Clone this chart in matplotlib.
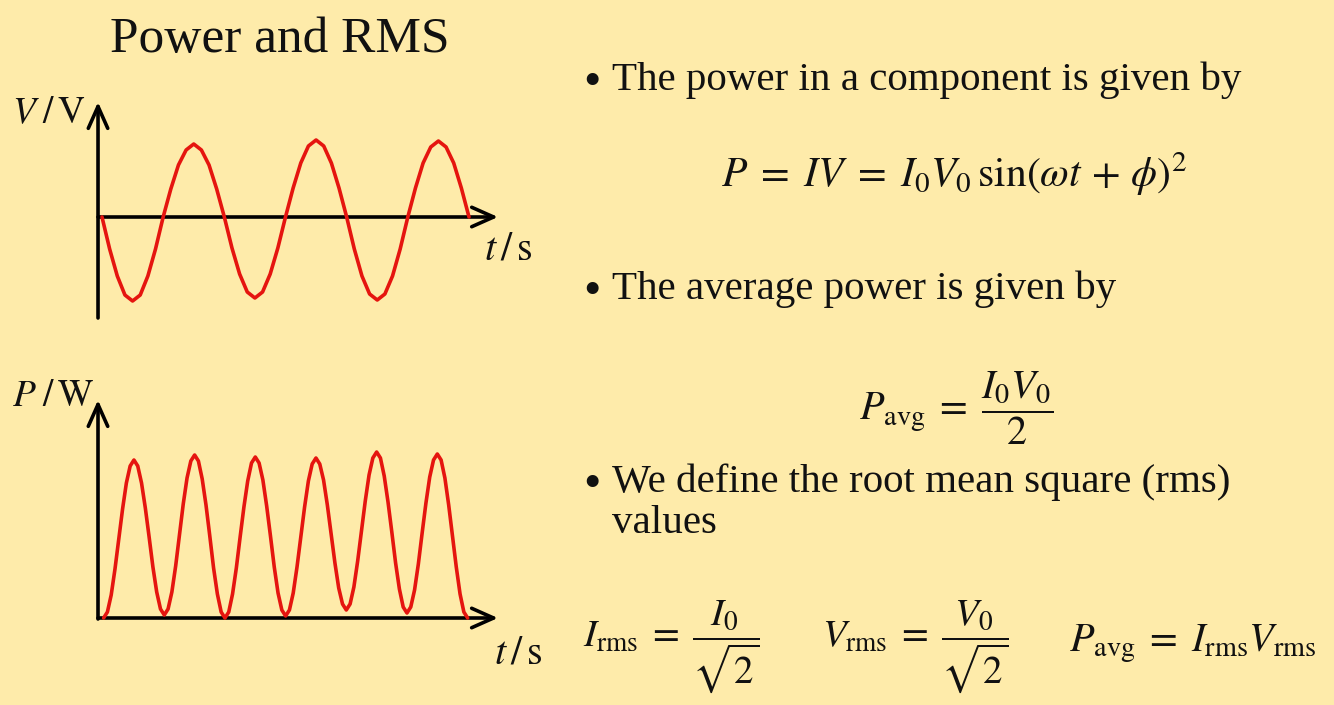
import matplotlib.pyplot as plt
import numpy as np

plt.rcParams['font.family'] = 'Liberation Serif'
plt.rcParams['mathtext.fontset'] = 'stix'

W, H = 1334, 705
bg = '#FEEBAA'
red = '#E5150F'
ink = '#111111'

# voltage trace, read every 1/16 of a period (3 periods)
t_v = np.arange(49)
v_vals = [0, -3.2, -5.9, -7.8, -8.4, -7.8, -5.9, -3.2, 0,
          2.8, 5.2, 6.7, 7.3, 6.7, 5.2, 2.8, 0,
          -3.1, -5.7, -7.5, -8.1, -7.5, -5.7, -3.1, 0,
          2.9, 5.4, 7.1, 7.7, 7.1, 5.4, 2.9, 0,
          -3.2, -5.9, -7.7, -8.3, -7.7, -5.9, -3.2, 0,
          2.9, 5.4, 7.0, 7.6, 7.0, 5.4, 2.9, 0]

# power trace, read every 1/16 of a hump (6 humps)
t_p = np.arange(97)
p_vals = [0, 0.6, 2.3, 4.9, 7.9, 10.9, 13.5, 15.2, 15.8,
          15.2, 13.5, 11.0, 8.1, 5.1, 2.6, 0.9, 0.3,
          0.9, 2.6, 5.2, 8.3, 11.4, 14.0, 15.7, 16.3,
          15.7, 13.9, 11.3, 8.2, 5.0, 2.4, 0.6, 0.0,
          0.6, 2.4, 5.0, 8.1, 11.1, 13.7, 15.5, 16.1,
          15.5, 13.8, 11.2, 8.2, 5.1, 2.5, 0.8, 0.2,
          0.8, 2.5, 5.1, 8.1, 11.1, 13.7, 15.4, 16.0,
          15.4, 13.8, 11.3, 8.4, 5.5, 3.0, 1.4, 0.8,
          1.4, 3.1, 5.7, 8.7, 11.7, 14.3, 16.0, 16.6,
          16.0, 14.2, 11.6, 8.6, 5.5, 2.9, 1.1, 0.5,
          1.1, 2.8, 5.4, 8.5, 11.5, 14.1, 15.8, 16.4,
          15.8, 14.0, 11.3, 8.2, 5.1, 2.4, 0.6, 0.0]


def px(x, y):
    return x / W, 1 - y / H


def box(x0, y0, x1, y1):
    return [x0 / W, 1 - y1 / H, (x1 - x0) / W, (y1 - y0) / H]


fig = plt.figure(figsize=(W / 100, H / 100), dpi=100, facecolor=bg)

arrow = dict(arrowstyle='->,head_length=0.63,head_width=0.28', lw=2.6,
             color='black', shrinkA=0, shrinkB=0, mutation_scale=25)

# voltage plot
ax1 = fig.add_axes(box(90, 95, 505, 325))
ax1.set_xlim(-1.569, 52.71)
ax1.set_ylim(-10.8, 12.2)
ax1.axis('off')
ax1.annotate('', xy=(51.8, 0), xytext=(-0.52, 0), arrowprops=arrow)
ax1.annotate('', xy=(-0.52, 11.5), xytext=(-0.52, -10.1), arrowprops=arrow)
ax1.plot(t_v, v_vals, color=red, lw=2.6, zorder=5, solid_capstyle='round')

# power plot
ax2 = fig.add_axes(box(90, 390, 505, 628))
ax2.set_xlim(-3.59, 105.85)
ax2.set_ylim(-1.0, 22.8)
ax2.axis('off')
ax2.annotate('', xy=(104.0, 0), xytext=(-1.48, 0), arrowprops=arrow)
ax2.annotate('', xy=(-1.48, 21.8), xytext=(-1.48, -0.1), arrowprops=arrow)
ax2.plot(t_p, p_vals, color=red, lw=2.6, zorder=5, solid_capstyle='round')

# labels
fig.text(*px(110, 52), 'Power and RMS', fontsize=37, color=ink)
fig.text(*px(12, 123), r'$V\;/\,\mathrm{V}$', fontsize=27, color=ink)
fig.text(*px(484, 259), r'$t\,/\,\mathrm{s}$', fontsize=29, color=ink)
fig.text(*px(12, 406), r'$P\;/\,\mathrm{W}$', fontsize=27, color=ink)
fig.text(*px(494, 663), r'$t\,/\,\mathrm{s}$', fontsize=29, color=ink)

bullets = [(90, 'The power in a component is given by'),
           (299, 'The average power is given by'),
           (492, 'We define the root mean square (rms)')]
for y, s in bullets:
    fig.text(*px(583, y + 6), '\u2022', fontsize=36, color=ink)
    fig.text(*px(612, y), s, fontsize=29.5, color=ink)
fig.text(*px(612, 533), 'values', fontsize=29.5, color=ink)

fig.text(*px(954, 187),
         r'$P\;=\;IV\;=\;I_0V_0\,\sin(\omega t\,+\,\phi)^2$',
         fontsize=30, ha='center', color=ink)
fig.text(*px(956, 420), r'$P_{\mathrm{avg}}\;=\;\dfrac{I_0V_0}{2}$',
         fontsize=29, ha='center', color=ink)
fig.text(*px(671, 646), r'$I_{\mathrm{rms}}\;=\;\dfrac{I_0}{\sqrt{2}}$',
         fontsize=28, ha='center', color=ink)
fig.text(*px(915, 646), r'$V_{\mathrm{rms}}\;=\;\dfrac{V_0}{\sqrt{2}}$',
         fontsize=28, ha='center', color=ink)
fig.text(*px(1193, 652), r'$P_{\mathrm{avg}}\;=\;I_{\mathrm{rms}}V_{\mathrm{rms}}$',
         fontsize=29, ha='center', color=ink)

fig.savefig('out.png', dpi=100, facecolor=bg)
